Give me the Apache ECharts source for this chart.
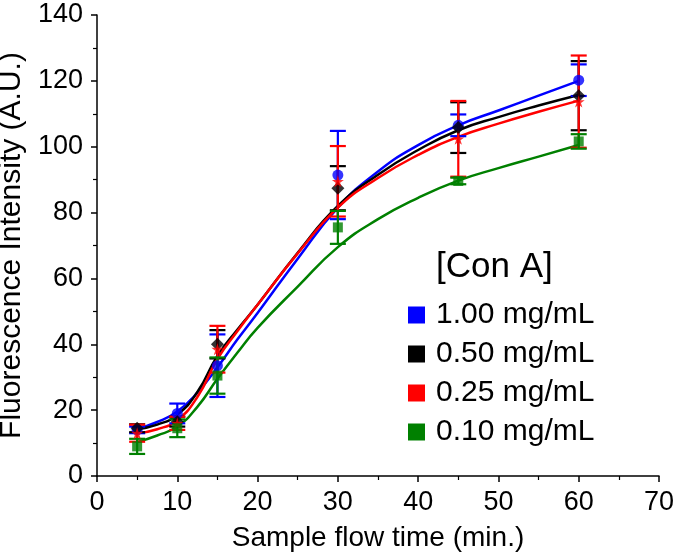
<!DOCTYPE html>
<html>
<head>
<meta charset="utf-8">
<script src="https://cdn.jsdelivr.net/npm/echarts@6/dist/echarts.min.js"></script>
<style>
	html, body { margin: 0; padding: 0; background: #fff; }
	#chart { width: 675px; height: 557px; }
</style>
</head>
<body>
<div id="chart"></div>
<script>
// 测量点（时间，单位 min）
const times = [5, 10, 15, 30, 45, 60];

// 各浓度的均值与误差
const blueMean = [14, 19, 33.5, 91.4, 106.5, 120.2];
const blueErr = [1, 3, 9.5, 13.4, 3.3, 4.8];
const blackMean = [14.5, 16.5, 40, 87.4, 105.8, 115.5];
const blackErr = [1.2, 1.5, 4.3, 6.7, 7.7, 10.5];
const redMean = [13, 16, 38.5, 89.5, 102.4, 113.7];
const redErr = [2.6, 2, 7.1, 10.7, 11.5, 14];
const greenMean = [9, 14.5, 30.5, 75.5, 89.6, 101.6];
const greenErr = [2.3, 2.7, 5.5, 5, 1, 2.2];

// 拟合曲线
const fitX = [5, 7.5, 10, 12.5, 15, 17.5, 20, 25, 30, 35, 40, 45, 50, 55, 60];
const blueFit = [14.3, 16.4, 19.6, 25.3, 33, 41.5, 49.5, 66, 81.5, 92.5, 100.5, 106.5, 111, 115.5, 120];
const blackFit = [14.2, 15.6, 18.6, 25.5, 36.5, 44.5, 52, 67.8, 82, 91.5, 99, 105, 109, 112.5, 115.7];
const redFit = [13, 14.2, 17, 24, 35.5, 44, 52, 67.6, 81.5, 90.5, 97.5, 103, 107, 110.6, 114];
const greenFit = [10.3, 12.3, 15, 21, 29.5, 37.5, 45, 57.5, 69.5, 78, 84.5, 89.7, 93.5, 97, 100.5];

const names = ["1.00 mg/mL", "0.50 mg/mL", "0.25 mg/mL", "0.10 mg/mL"];
const colors = ["#0000ff", "#000000", "#ff0000", "#008000"];
const symbols = [
	"circle",
	"diamond",
	"path://M50,0 L61,35 L98,35 L68,57 L79,91 L50,70 L21,91 L32,57 L2,35 L39,35 Z",
	"rect",
];
const symbolSizes = [11, 13, 12, 10];

const means = [blueMean, blackMean, redMean, greenMean];
const errs = [blueErr, blackErr, redErr, greenErr];
const fits = [blueFit, blackFit, redFit, greenFit];

const font = "'Liberation Sans', Arial, sans-serif";

// 误差棒绘制
function errorBarRenderer(color) {
	return function (params, api) {
		const x = api.value(0);
		const top = api.coord([x, api.value(2)]);
		const bot = api.coord([x, api.value(1)]);
		const half = 8;
		const style = { stroke: color, lineWidth: 2.2 };
		return {
			type: "group",
			children: [
				{ type: "line", shape: { x1: top[0], y1: top[1], x2: bot[0], y2: bot[1] }, style: style },
				{ type: "line", shape: { x1: top[0] - half, y1: top[1], x2: top[0] + half, y2: top[1] }, style: style },
				{ type: "line", shape: { x1: bot[0] - half, y1: bot[1], x2: bot[0] + half, y2: bot[1] }, style: style },
			],
		};
	};
}

const series = [];
names.forEach(function (name, i) {
	series.push({
		name: name,
		type: "line",
		data: fitX.map(function (x, k) { return [x, fits[i][k]]; }),
		smooth: 0.5,
		symbol: "none",
		lineStyle: { color: colors[i], width: 2.5 },
		itemStyle: { color: colors[i] },
		z: 2,
	});
});
names.forEach(function (name, i) {
	series.push({
		name: name,
		type: "custom",
		renderItem: errorBarRenderer(colors[i]),
		data: times.map(function (t, k) { return [t, means[i][k] - errs[i][k], means[i][k] + errs[i][k]]; }),
		encode: { x: 0, y: [1, 2] },
		z: 3,
	});
	series.push({
		name: name,
		type: "scatter",
		data: times.map(function (t, k) { return [t, means[i][k]]; }),
		symbol: symbols[i],
		symbolSize: symbolSizes[i],
		itemStyle: { color: colors[i] },
		z: 4,
	});
});

const chart = echarts.init(document.getElementById("chart"), null, { renderer: "canvas" });
chart.setOption({
	animation: false,
	backgroundColor: "#fff",
	textStyle: { fontFamily: font },
	title: {
		text: "[Con A]",
		left: 436,
		top: 250,
		padding: 0,
		textStyle: { fontFamily: font, fontSize: 35, fontWeight: "normal", color: "#000" },
	},
	legend: {
		data: names.map(function (n, i) { return { name: n, itemStyle: { color: colors[i] } }; }),
		orient: "vertical",
		left: 403,
		top: 295,
		icon: "rect",
		itemWidth: 17,
		itemHeight: 17,
		itemGap: 9,
		textStyle: { fontFamily: font, fontSize: 30, color: "#000", lineHeight: 30, padding: [0, 0, 0, 6] },
	},
	grid: { left: 97, right: 16, top: 15, bottom: 81, outerBoundsMode: "none", containLabel: false },
	xAxis: {
		type: "value",
		min: 0,
		max: 70,
		interval: 10,
		name: "Sample flow time (min.)",
		nameLocation: "middle",
		nameGap: 48,
		nameTextStyle: { fontFamily: font, fontSize: 28, color: "#000" },
		axisLine: { lineStyle: { color: "#000", width: 1.5 } },
		axisTick: { inside: false, length: 6, lineStyle: { color: "#000", width: 1.5 } },
		minorTick: { show: true, splitNumber: 2, length: 4, lineStyle: { color: "#000", width: 1.2 } },
		axisLabel: { fontFamily: font, fontSize: 27, color: "#000", margin: 13 },
		splitLine: { show: false },
	},
	yAxis: {
		type: "value",
		min: 0,
		max: 140,
		interval: 20,
		name: "Fluorescence Intensity (A.U.)",
		nameLocation: "middle",
		nameGap: 58,
		nameTextStyle: { fontFamily: font, fontSize: 30, color: "#000" },
		axisLine: { show: true, lineStyle: { color: "#000", width: 1.5 } },
		axisTick: { show: true, inside: false, length: 6, lineStyle: { color: "#000", width: 1.5 } },
		minorTick: { show: true, splitNumber: 2, length: 4, lineStyle: { color: "#000", width: 1.2 } },
		axisLabel: { fontFamily: font, fontSize: 27, color: "#000", margin: 14 },
		splitLine: { show: false },
	},
	series: series,
});
</script>
</body>
</html>
